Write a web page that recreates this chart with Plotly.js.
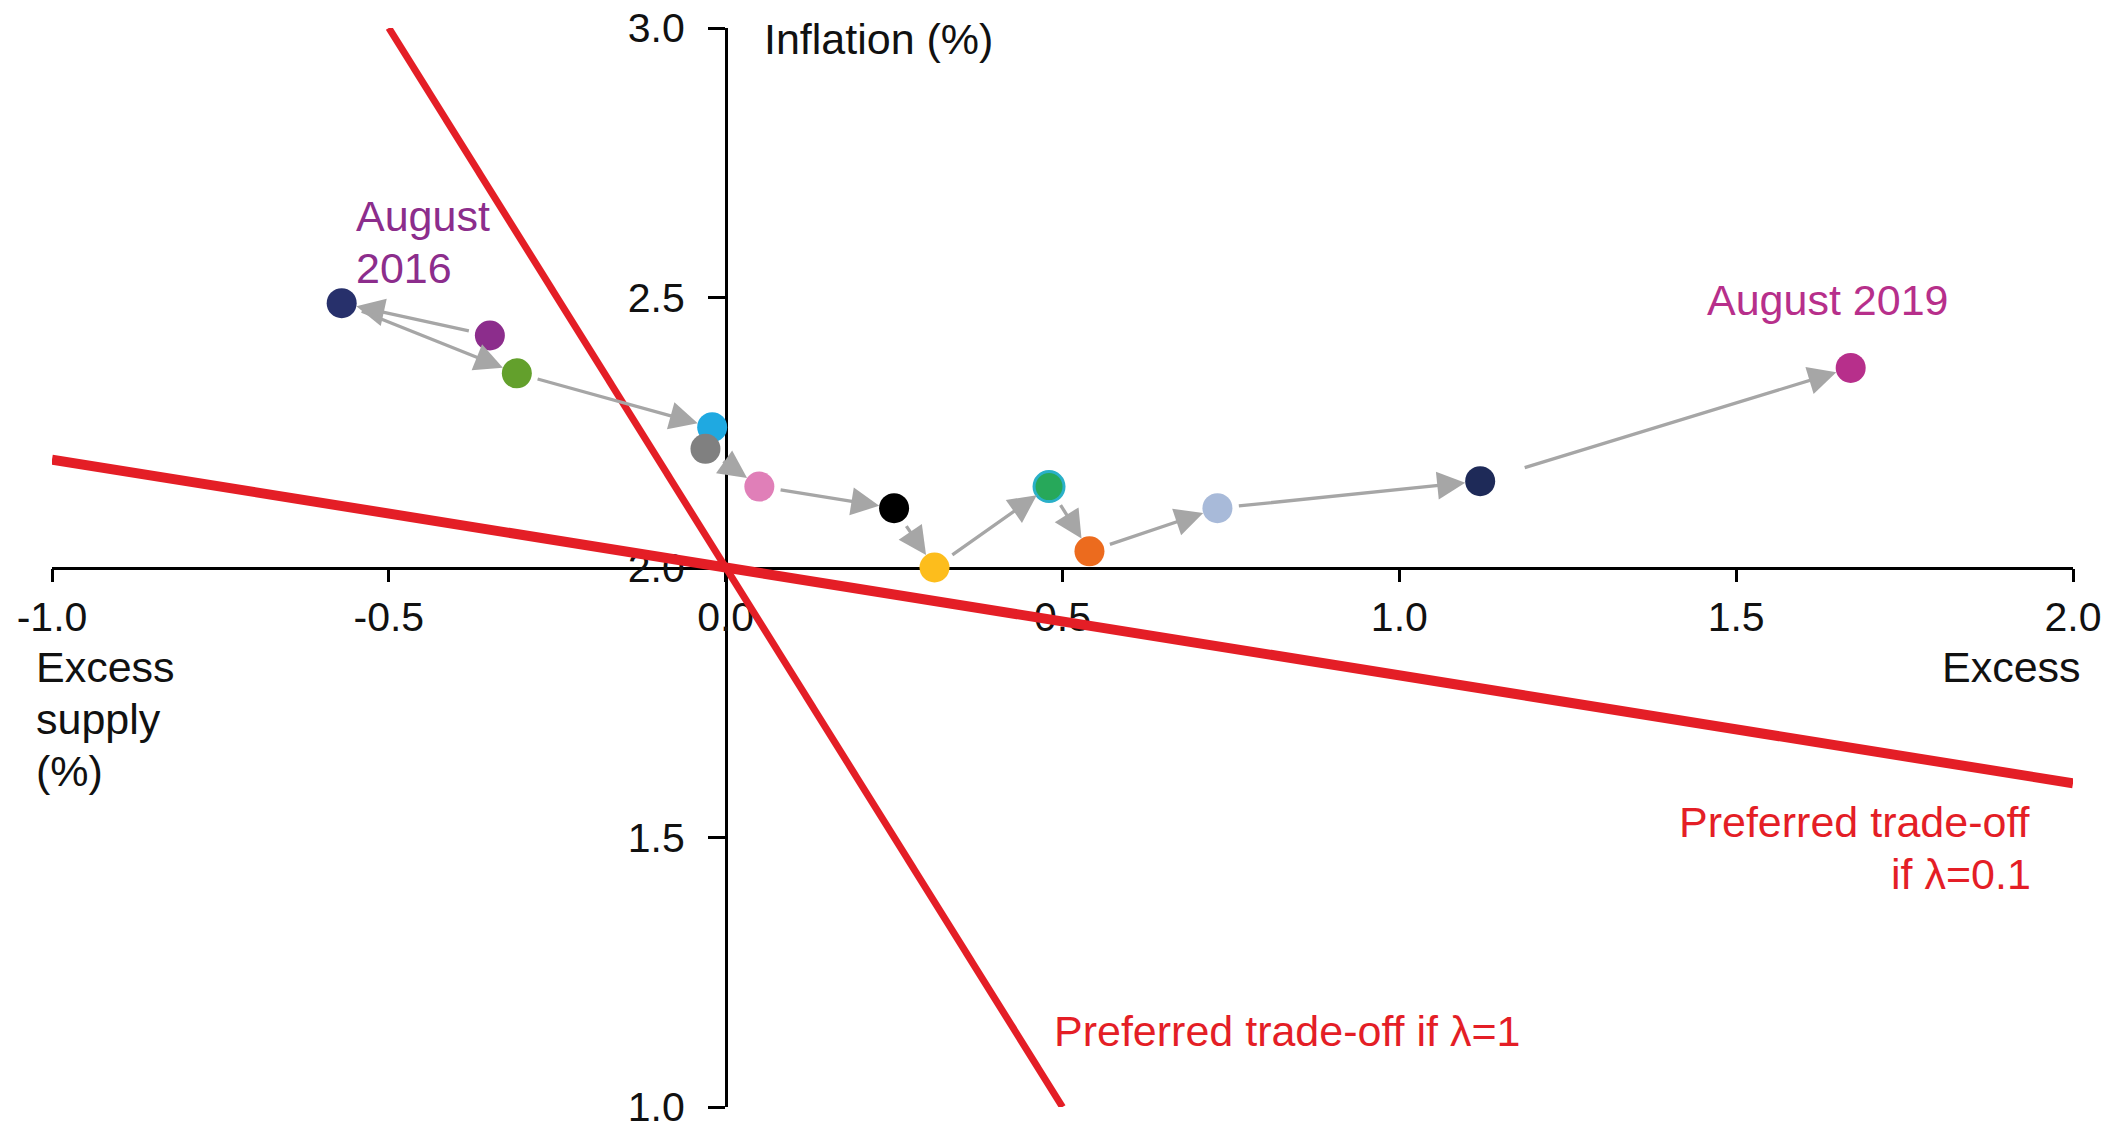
<!DOCTYPE html>
<html>
<head>
<meta charset="utf-8">
<script src="https://cdn.plot.ly/plotly-3.0.1.min.js"></script>
<style>
  html, body { margin: 0; padding: 0; background: #ffffff; }
  #chart { width: 2105px; height: 1131px; }
</style>
</head>
<body>
<div id="chart"></div>
<script>
// Quarterly projections: excess demand (%) against inflation (%)
const periods = ['Aug 2016', 'Nov 2016', 'Feb 2017', 'May 2017', 'Aug 2017', 'Nov 2017',
                 'Feb 2018', 'May 2018', 'Aug 2018', 'Nov 2018', 'Feb 2019', 'May 2019', 'Aug 2019'];
const excessDemand = [-0.35, -0.57, -0.31, -0.02, -0.03, 0.05, 0.25, 0.31, 0.48, 0.54, 0.73, 1.12, 1.67];
const inflation    = [2.43, 2.49, 2.36, 2.26, 2.22, 2.15, 2.11, 2.00, 2.15, 2.03, 2.11, 2.16, 2.37];

// Preferred trade-off lines through the 2% target
const tradeoffL1X  = [-0.5, 0.5];
const tradeoffL1Y  = [3.0, 1.0];
const tradeoffL01X = [-1.0, 2.0];
const tradeoffL01Y = [2.2, 1.6];

// Axes
const xRange = [-1, 2];
const yRange = [1, 3];
const xTicks = [-1.0, -0.5, 0.0, 0.5, 1.0, 1.5, 2.0];
const yTicks = [1.0, 1.5, 2.0, 2.5, 3.0];

// Text
const firstLabel = ['August', '2016'];
const lastLabel = ['August 2019'];
const yTitle = ['Inflation (%)'];
const xTitleLeft = ['Excess', 'supply', '(%)'];
const xTitleRight = ['Excess'];
const labelL01 = ['Preferred trade-off', 'if \u03bb=0.1'];
const labelL1 = ['Preferred trade-off if \u03bb=1'];

// Styles
const pointColors = ['#8c2d8c', '#27306b', '#63a02c', '#1fa9e1', '#808080', '#e07fb8', '#000000',
                     '#fdbd1c', '#27a85a', '#ec6b1e', '#a8bad9', '#1e2a58', '#b72f8b'];
const FONT = 'Liberation Sans, Arial, sans-serif';
const LABEL_SIZE = 43;
const LINE_GAP = 52;
const TICK_SIZE = 41;
const RED = '#e41e26';
const ARROW = '#a6a6a6';
const TEXT = '#111111';

const W = 2105, H = 1131;
const margin = {l: 52, r: 32, t: 28, b: 24};
const plotW = W - margin.l - margin.r;
const plotH = H - margin.t - margin.b;

const traces = [
  {
    x: tradeoffL01X, y: tradeoffL01Y, mode: 'lines', type: 'scatter',
    line: {color: RED, width: 10}, hoverinfo: 'skip'
  },
  {
    x: tradeoffL1X, y: tradeoffL1Y, mode: 'lines', type: 'scatter',
    line: {color: RED, width: 7}, hoverinfo: 'skip'
  },
  {
    x: excessDemand, y: inflation, text: periods, mode: 'markers', type: 'scatter',
    cliponaxis: false,
    hovertemplate: '%{text}<br>Excess demand: %{x:.2f}%<br>Inflation: %{y:.2f}%<extra></extra>',
    marker: {
      size: 30,
      color: pointColors,
      line: {
        color: pointColors.map((c, i) => i === 8 ? '#2ab0c8' : c),
        width: pointColors.map((c, i) => i === 8 ? 3 : 0)
      }
    }
  }
];

// Arrows joining consecutive quarters
const annotations = [];
for (let i = 1; i < excessDemand.length; i++) {
  const dxPx = (excessDemand[i] - excessDemand[i - 1]) / (xRange[1] - xRange[0]) * plotW;
  const dyPx = (inflation[i] - inflation[i - 1]) / (yRange[1] - yRange[0]) * plotH;
  if (Math.hypot(dxPx, dyPx) < 40) continue;
  annotations.push({
    x: excessDemand[i], y: inflation[i],
    ax: excessDemand[i - 1], ay: inflation[i - 1],
    xref: 'x', yref: 'y', axref: 'x', ayref: 'y',
    text: '', showarrow: true,
    arrowhead: 2, arrowsize: 1.7, arrowwidth: 3.3, arrowcolor: ARROW,
    standoff: 15, startstandoff: i === excessDemand.length - 1 ? 45 : 20
  });
}

// Multi-line labels: one annotation per line so the line gap is exact
function label(lines, x, y, xanchor, color, ref) {
  const n = lines.length;
  lines.forEach((line, k) => {
    annotations.push({
      text: line, x: x, y: y, xref: ref || 'x', yref: ref || 'y', showarrow: false,
      xanchor: xanchor, yanchor: 'middle', align: xanchor,
      yshift: -(k - (n - 1) / 2) * LINE_GAP,
      font: {family: FONT, size: LABEL_SIZE, color: color}
    });
  });
}

label(yTitle, 0.054, 2.980, 'left', TEXT);
label(xTitleLeft, -0.009, 0.360, 'left', TEXT, 'paper');
label(xTitleRight, 1.005, 0.408, 'right', TEXT, 'paper');
label(firstLabel, -0.552, 2.603, 'left', '#8c2d8c');
label(lastLabel, 1.454, 2.495, 'left', '#b72f8b');
label(labelL01, 1.940, 1.480, 'right', RED);
label(labelL1, 0.484, 1.141, 'left', RED);

const axisCommon = {
  showgrid: false, zeroline: false, showline: true,
  linecolor: '#000000', linewidth: 2.5,
  ticks: 'outside', tickwidth: 2.5, tickcolor: '#000000',
  tickfont: {family: FONT, size: TICK_SIZE, color: TEXT},
  ticklabeloverflow: 'allow',
  anchor: 'free', layer: 'below traces', automargin: false, fixedrange: true
};

const layout = {
  width: W, height: H, margin: margin,
  paper_bgcolor: '#ffffff', plot_bgcolor: '#ffffff',
  showlegend: false,
  xaxis: Object.assign({}, axisCommon, {
    range: xRange, tickvals: xTicks, ticktext: xTicks.map(v => v.toFixed(1)),
    ticklen: 13, position: (2 - yRange[0]) / (yRange[1] - yRange[0])
  }),
  yaxis: Object.assign({}, axisCommon, {
    range: yRange, tickvals: yTicks, ticktext: yTicks.map(v => v.toFixed(1)),
    ticklen: 17, ticklabelstandoff: 15,
    position: (0 - xRange[0]) / (xRange[1] - xRange[0])
  }),
  annotations: annotations
};

Plotly.newPlot('chart', traces, layout, {displayModeBar: false});
</script>
</body>
</html>
